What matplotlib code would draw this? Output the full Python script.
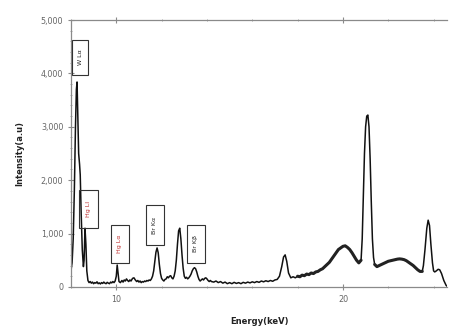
import matplotlib
matplotlib.use("Agg")
import matplotlib.pyplot as plt
from matplotlib.patches import Rectangle
from matplotlib.ticker import MultipleLocator, FuncFormatter

energy = [8.00, 8.05, 8.10, 8.15, 8.20, 8.24, 8.27, 8.30, 8.34, 8.38, 8.41, 8.45, 8.50, 8.55, 8.58, 8.62, 8.66, 8.70, 8.75, 8.80,
          8.85, 8.90, 8.95, 9.00, 9.05, 9.10, 9.15, 9.20, 9.25, 9.30, 9.35, 9.40, 9.45, 9.50, 9.55, 9.60, 9.65, 9.70, 9.75, 9.80,
          9.85, 9.90, 9.95, 10.00, 10.04, 10.08, 10.12, 10.18, 10.25, 10.30, 10.35, 10.40, 10.45, 10.50, 10.55, 10.60, 10.65, 10.72, 10.78, 10.84,
          10.90, 10.95, 11.00, 11.05, 11.10, 11.15, 11.20, 11.25, 11.30, 11.35, 11.40, 11.45, 11.50, 11.55, 11.60, 11.65, 11.70, 11.75, 11.80, 11.85,
          11.90, 11.95, 12.00, 12.05, 12.10, 12.15, 12.20, 12.25, 12.30, 12.35, 12.40, 12.45, 12.50, 12.55, 12.60, 12.65, 12.70, 12.75, 12.80, 12.85,
          12.90, 12.95, 13.00, 13.05, 13.10, 13.15, 13.20, 13.25, 13.30, 13.35, 13.40, 13.45, 13.50, 13.55, 13.60, 13.65, 13.70, 13.75, 13.80, 13.85,
          13.90, 13.95, 14.00, 14.05, 14.10, 14.15, 14.20, 14.30, 14.40, 14.50, 14.60, 14.70, 14.80, 14.90, 15.00, 15.10, 15.20, 15.30, 15.40, 15.50,
          15.60, 15.70, 15.80, 15.90, 16.00, 16.10, 16.20, 16.30, 16.40, 16.50, 16.60, 16.70, 16.80, 16.90, 17.00, 17.10, 17.20, 17.30, 17.38, 17.45,
          17.52, 17.60, 17.70, 17.80, 17.90, 18.00, 18.10, 18.20, 18.30, 18.40, 18.50, 18.60, 18.70, 18.80, 18.90, 19.00, 19.10, 19.20, 19.30, 19.40,
          19.50, 19.60, 19.70, 19.80, 19.90, 20.00, 20.10, 20.20, 20.30, 20.40, 20.50, 20.60, 20.70, 20.80, 20.85, 20.90, 20.95, 21.00, 21.05, 21.10,
          21.15, 21.20, 21.25, 21.30, 21.35, 21.40, 21.50, 21.60, 21.70, 21.80, 21.90, 22.00, 22.10, 22.20, 22.30, 22.40, 22.50, 22.60, 22.70, 22.80,
          22.90, 23.00, 23.10, 23.20, 23.30, 23.40, 23.50, 23.55, 23.62, 23.70, 23.76, 23.82, 23.88, 23.95, 24.00, 24.05, 24.12, 24.20, 24.27, 24.35,
          24.45, 24.55, 24.60]
intensity = [300, 450, 900, 1800, 3000, 3700, 3840, 3300, 2500, 2300, 2100, 1400, 700, 380, 500, 1100, 800, 300, 120, 80,
             100, 70, 90, 60, 80, 70, 95, 60, 75, 55, 80, 65, 90, 70, 60, 85, 70, 60, 90, 75,
             100, 80, 110, 200, 410, 250, 100, 80, 120, 90, 130, 110, 150, 120, 100, 130, 110, 160, 170, 130,
             100, 120, 90, 110, 80, 100, 90, 110, 100, 120, 110, 130, 120, 150, 200, 300, 480, 650, 730, 640,
             420, 250, 160, 130, 110, 140, 150, 190, 170, 200, 210, 170, 150, 200, 300, 500, 800, 1050, 1100, 900,
             600, 350, 200, 160, 180, 150, 170, 200, 240, 300, 340, 360, 340, 280, 200, 140, 110, 130, 150, 130,
             160, 170, 150, 120, 100, 120, 100, 90, 110, 80, 100, 70, 90, 60, 80, 60, 85, 65, 80, 60,
             85, 70, 90, 75, 95, 80, 100, 85, 110, 95, 115, 100, 120, 105, 130, 140, 200, 380, 560, 600,
             480, 260, 170, 190, 170, 200, 190, 220, 210, 240, 230, 260, 250, 280, 290, 320, 340, 380, 420, 460,
             520, 580, 640, 700, 730, 760, 770, 740, 700, 640, 570, 500, 450, 500, 900, 1700, 2500, 3000, 3200, 3220,
             3000, 2400, 1600, 900, 550, 420, 380, 400, 420, 440, 460, 480, 490, 500, 510, 520, 525, 520, 510, 490,
             460, 430, 400, 360, 320, 290, 290, 400, 700, 1100, 1250, 1150, 800, 450, 300, 280, 300, 330, 320, 250,
             120, 30, 10]

box_labels = ["W L\u03b1", "Hg Ll", "Hg L\u03b1", "Br K\u03b1", "Br K\u03b2"]
box_colors = ["#222222", "#c03030", "#c03030", "#222222", "#222222"]
box_x0 = [8.05, 8.35, 9.76, 11.30, 13.10]
box_x1 = [8.75, 9.20, 10.55, 12.10, 13.90]
box_y0 = [3970, 1105, 450, 785, 450]
box_y1 = [4625, 1815, 1160, 1535, 1160]

fig = plt.figure(figsize=(4.49, 3.29), dpi=100)
ax = fig.add_axes([0.158, 0.128, 0.838, 0.811])

ax.plot(energy, intensity, color="#111111", lw=1.1)
# noisy, thicker band of the scatter continuum
seg = [(e, v) for e, v in zip(energy, intensity) if 18.0 <= e <= 20.8 or 21.4 <= e <= 23.5]
band1 = [(e, v) for e, v in seg if e <= 20.8]
band2 = [(e, v) for e, v in seg if e >= 21.4]
for b in (band1, band2):
    ax.plot([p[0] for p in b], [p[1] for p in b], color="#222222", lw=2.2, solid_capstyle="round")

for lab, c, x0, x1, y0, y1 in zip(box_labels, box_colors, box_x0, box_x1, box_y0, box_y1):
    ax.add_patch(Rectangle((x0, y0), x1 - x0, y1 - y0, fill=False, ec="#333333", lw=0.8, zorder=3))
    ax.text((x0 + x1) / 2, (y0 + y1) / 2, lab, rotation=90, ha="center", va="center",
            fontsize=4.5, color=c, zorder=4)

ax.set_xlim(8.0, 24.6)
ax.set_ylim(0, 5000)
ax.xaxis.set_major_locator(MultipleLocator(10))
ax.xaxis.set_minor_locator(MultipleLocator(2))
ax.yaxis.set_major_locator(MultipleLocator(1000))
ax.yaxis.set_minor_locator(MultipleLocator(200))
ax.yaxis.set_major_formatter(FuncFormatter(lambda v, p: f"{int(v):,}"))
ax.xaxis.set_major_formatter(FuncFormatter(lambda v, p: f"{int(v)}"))

for s in ["left", "bottom", "top"]:
    ax.spines[s].set_color("#8a8a8a")
    ax.spines[s].set_linewidth(0.9)
ax.spines["right"].set_visible(False)

ax.tick_params(axis="both", which="major", labelsize=5.8, labelcolor="#666666", color="#8a8a8a",
               length=4, width=0.8, direction="inout")
ax.tick_params(axis="both", which="minor", color="#9a9a9a", length=2, width=0.6, direction="inout")
ax.tick_params(axis="x", which="both", top=True)

ax.set_xlabel("Energy(keV)", fontsize=6, fontweight="bold", color="#222222", labelpad=10)
ax.set_ylabel("Intensity(a.u)", fontsize=6, fontweight="bold", color="#222222", labelpad=12)

fig.savefig("out.png", dpi=100)
